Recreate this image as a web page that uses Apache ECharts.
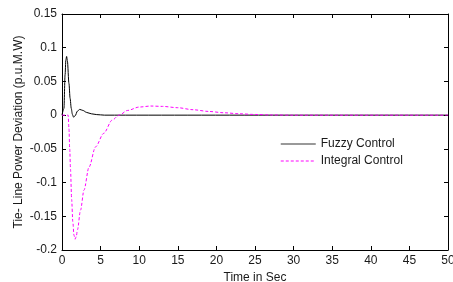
<!DOCTYPE html>
<html><head><meta charset="utf-8">
<script src="https://cdn.jsdelivr.net/npm/echarts@6/dist/echarts.min.js"></script>
<style>html,body{margin:0;padding:0;background:#fff}#c{width:453px;height:282px}</style>
</head><body><div id="c"></div>
<script>
var fuzzyTime = [0, 0.25, 0.4, 0.5, 0.6, 0.7, 0.9, 1.05, 1.2, 1.35, 1.5, 1.7, 2.0, 2.3, 2.7, 3.2, 3.8, 4.5, 5.5, 50];
var fuzzyValues = [0, 0.01, 0.06, 0.082, 0.087, 0.08, 0.047, 0.025, 0.01, 0.001, -0.003, -0.001, 0.006, 0.0085, 0.007, 0.004, 0.002, 0.0008, 0, 0];
var integralTime = [0, 0.8, 0.9, 1.0, 1.1, 1.25, 1.4, 1.55, 1.7, 1.85, 2.0, 2.4, 2.85, 3.5, 4.35, 5.4, 6.5, 7.4, 8.5, 10, 11.5, 13, 15, 17, 19, 21, 23, 25, 27, 30, 50];
var integralValues = [0, 0, -0.02, -0.05, -0.08, -0.125, -0.158, -0.178, -0.184, -0.18, -0.17, -0.141, -0.111, -0.077, -0.047, -0.027, -0.0074, 0, 0.007, 0.012, 0.0135, 0.013, 0.011, 0.008, 0.0055, 0.0035, 0.002, 0.001, 0.0003, 0, 0];
var seriesNames = ['Fuzzy Control', 'Integral Control'];
var xTicks = [0, 5, 10, 15, 20, 25, 30, 35, 40, 45, 50];

function pairs(t, v) { return t.map(function (x, i) { return [x, v[i]]; }); }
var font = 'Liberation Sans, Arial, sans-serif';
var txt = '#1a1a1a';
var axisCommon = {
  axisLine: { onZero: false, lineStyle: { color: '#000', width: 1 } },
  axisTick: { inside: true, length: 4, lineStyle: { color: '#000' } },
  splitLine: { show: false },
  axisLabel: { color: txt, fontSize: 12, fontFamily: font }
};
var chart = echarts.init(document.getElementById('c'));
chart.setOption({
  animation: false,
  grid: { left: 62, right: 5, top: 14, bottom: 32, containLabel: false, outerBoundsMode: 'none' },
  legend: {
    left: 275, top: 133, orient: 'vertical', itemWidth: 35, itemHeight: 10, itemGap: 5,
    itemStyle: { opacity: 0 },
    lineStyle: { width: 1 },
    textStyle: { color: txt, fontSize: 12, fontFamily: font },
    data: [
      { name: seriesNames[0], lineStyle: { color: '#777', width: 1.5 } },
      { name: seriesNames[1] }
    ]
  },
  xAxis: [
    Object.assign({}, axisCommon, {
      type: 'value', min: 0, max: 50, interval: 5, position: 'bottom',
      name: 'Time in Sec', nameLocation: 'middle', nameGap: 22,
      nameTextStyle: { color: txt, fontSize: 12, fontFamily: font },
      axisLabel: Object.assign({}, axisCommon.axisLabel, { margin: 5 })
    }),
    Object.assign({}, axisCommon, {
      type: 'value', min: 0, max: 50, interval: 5, position: 'top',
      axisLabel: { show: false }
    })
  ],
  yAxis: [
    Object.assign({}, axisCommon, {
      type: 'value', min: -0.2, max: 0.15, interval: 0.05, position: 'left',
      name: 'Tie- Line Power Deviation (p.u.M.W)', nameLocation: 'middle', nameGap: 37,
      nameMoveOverlap: false,
      nameTextStyle: { color: txt, fontSize: 12, fontFamily: font },
      axisLabel: Object.assign({}, axisCommon.axisLabel, { margin: 5,
        formatter: function (v) { return String(Math.round(v * 100) / 100); } })
    }),
    Object.assign({}, axisCommon, {
      type: 'value', min: -0.2, max: 0.15, interval: 0.05, position: 'right',
      axisLabel: { show: false }
    })
  ],
  series: [
    {
      name: seriesNames[0], type: 'line', symbol: 'none', smooth: 0.3, smoothMonotone: 'x',
      data: pairs(fuzzyTime, fuzzyValues),
      lineStyle: { color: '#000', width: 1 }, itemStyle: { color: '#555' }
    },
    {
      name: seriesNames[1], type: 'line', symbol: 'none', smooth: 0.3, smoothMonotone: 'x',
      data: pairs(integralTime, integralValues),
      lineStyle: { color: '#ff00ff', width: 1, type: [3, 2] }, itemStyle: { color: '#ff00ff' }
    }
  ]
});
</script></body></html>
